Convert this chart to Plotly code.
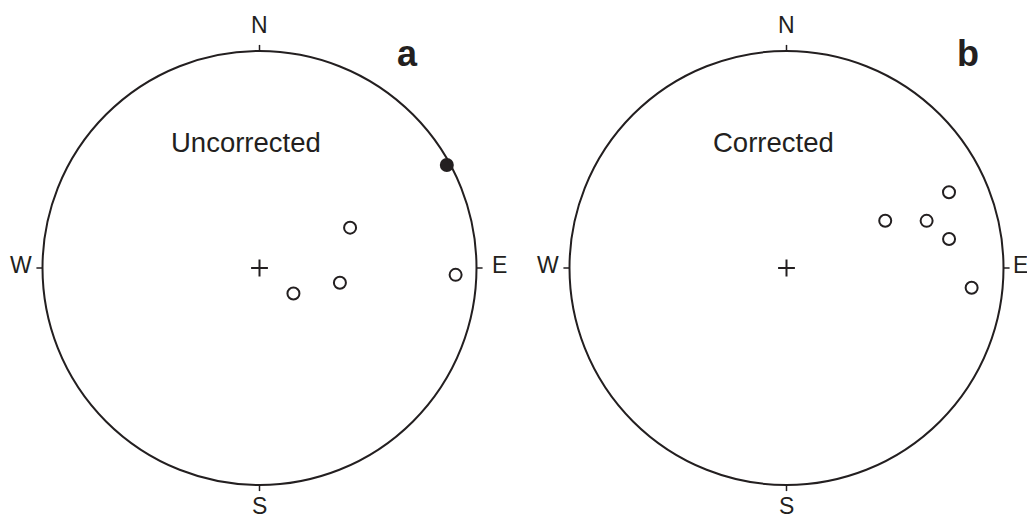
import numpy as np
import plotly.graph_objects as go

# Palaeomagnetic site means, declination / inclination in degrees
# negative inclination = upper hemisphere (open symbol)
uncorr_dec = [66.0, 100.4, 126.9, 92.0]
uncorr_inc = [-52.3, -59.1, -74.1, -10.5]
uncorr_fill_dec = [61.2]
uncorr_fill_inc = [1.7]

corr_dec = [65.0, 64.4, 71.4, 79.9, 96.1]
corr_inc = [-18.5, -48.2, -32.4, -24.9, -15.3]

directions = ["N", "E", "S", "W"]
panel_titles = ["Uncorrected", "Corrected"]
panel_letters = ["a", "b"]

INK = "#231f20"
FONT = "Liberation Sans, Arial, sans-serif"

# pixel geometry of the nets
W, H = 1027, 518
R = 217.0
centers = [(259.5, 268.0), (786.5, 268.0)]


def equal_area(dec, inc):
    """Lambert equal-area (Schmidt) projection, unit radius at the primitive."""
    dec = np.radians(np.asarray(dec))
    inc = np.radians(np.abs(np.asarray(inc)))
    r = np.sqrt(2) * np.sin((np.pi / 2 - inc) / 2)
    return r * np.sin(dec), r * np.cos(dec)


fig = go.Figure()

for k, (cx, cy) in enumerate(centers):
    sfx = "" if k == 0 else "2"
    x0, x1 = k * 0.5, (k + 1) * 0.5
    px0, px1 = x0 * W, x1 * W
    fig.update_layout(**{
        f"xaxis{sfx}": dict(domain=[x0, x1], range=[(px0 - cx) / R, (px1 - cx) / R],
                            visible=False, fixedrange=True),
        f"yaxis{sfx}": dict(domain=[0, 1], range=[-(H - cy) / R, cy / R],
                            visible=False, fixedrange=True),
    })
    xr, yr = f"x{sfx}", f"y{sfx}"

    # primitive circle
    fig.add_shape(type="circle", xref=xr, yref=yr, x0=-1, y0=-1, x1=1, y1=1,
                  line=dict(color=INK, width=2))
    # cardinal ticks
    for ang in [0, 90, 180, 270]:
        a = np.radians(ang)
        fig.add_shape(type="line", xref=xr, yref=yr,
                      x0=np.sin(a), y0=np.cos(a),
                      x1=1.028 * np.sin(a), y1=1.028 * np.cos(a),
                      line=dict(color=INK, width=1.5))
    # cardinal labels
    lab_pos = {"N": (0, 1.12), "E": ([1.105, 1.08][k], 0.015),
               "S": (0, -1.095), "W": (-1.10, 0.015)}
    for d in directions:
        lx, ly = lab_pos[d]
        fig.add_annotation(x=lx, y=ly, xref=xr, yref=yr, text=d, showarrow=False,
                           font=dict(family=FONT, size=23, color=INK))
    fig.add_annotation(x=-0.062, y=0.58, xref=xr, yref=yr, text=panel_titles[k],
                       showarrow=False, font=dict(family=FONT, size=27.5, color=INK))
    fig.add_annotation(x=[0.684, 0.836][k], y=0.99, xref=xr, yref=yr,
                       text="<b>%s</b>" % panel_letters[k], showarrow=False,
                       font=dict(family=FONT, size=36, color=INK))

    # centre cross
    fig.add_trace(go.Scatter(x=[0], y=[0], xaxis=xr, yaxis=yr, mode="markers",
                             marker=dict(symbol="cross-thin", size=12, color=INK,
                                         line=dict(color=INK, width=2)),
                             hoverinfo="skip", showlegend=False))

# panel a
ux, uy = equal_area(uncorr_dec, uncorr_inc)
fig.add_trace(go.Scatter(x=ux, y=uy, xaxis="x", yaxis="y", mode="markers",
                         marker=dict(symbol="circle-open", size=12, color=INK,
                                     line=dict(color=INK, width=2)),
                         name="upper", showlegend=False))
fx, fy = equal_area(uncorr_fill_dec, uncorr_fill_inc)
fig.add_trace(go.Scatter(x=fx, y=fy, xaxis="x", yaxis="y", mode="markers",
                         marker=dict(symbol="circle", size=14, color=INK),
                         name="lower", showlegend=False))

# panel b
bx, by = equal_area(corr_dec, corr_inc)
fig.add_trace(go.Scatter(x=bx, y=by, xaxis="x2", yaxis="y2", mode="markers",
                         marker=dict(symbol="circle-open", size=12, color=INK,
                                     line=dict(color=INK, width=2)),
                         name="upper", showlegend=False))

fig.update_layout(
    width=W, height=H,
    margin=dict(l=0, r=0, t=0, b=0),
    plot_bgcolor="white",
    paper_bgcolor="white",
    showlegend=False,
)

# drop the page's default body margin so the figure sits at the window's corner
fig.write_html("out.html", config={"displayModeBar": False},
               post_script="document.body.style.margin='0';")
